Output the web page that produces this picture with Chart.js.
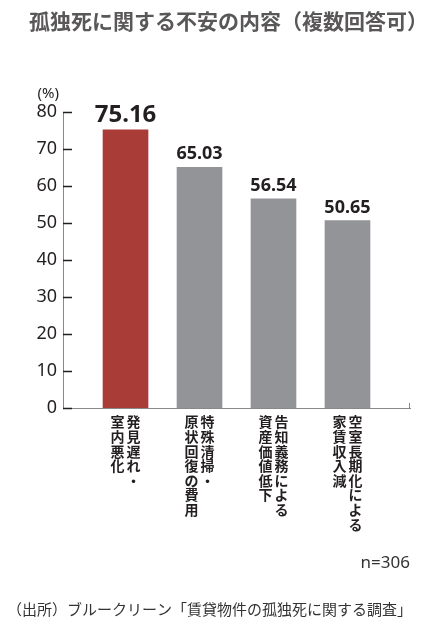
<!DOCTYPE html>
<html>
<head>
<meta charset="utf-8">
<script src="https://cdn.jsdelivr.net/npm/chart.js@4"></script>
<style>
  html, body { margin: 0; padding: 0; background: #fff; }
  #wrap { position: relative; width: 444px; height: 633px; }
</style>
</head>
<body>
<div id="wrap"><canvas id="chart"></canvas></div>
<script>
// データ
const categories = [
  ["発見遅れ・", "室内悪化"],
  ["特殊清掃・", "原状回復の費用"],
  ["告知義務による", "資産価値低下"],
  ["空室長期化による", "家賃収入減"]
];
const values = [75.16, 65.03, 56.54, 50.65];
const barColors = ["#a93c37", "#939497", "#939497", "#939497"];
const yTicks = [0, 10, 20, 30, 40, 50, 60, 70, 80];

const titleText = "孤独死に関する不安の内容（複数回答可）";
const unitText = "(%)";
const nText = "n=306";
const sourceText = "（出所）ブルークリーン「賃貸物件の孤独死に関する調査」";

const jp = '"Noto Sans CJK JP", sans-serif';
const num = '"Noto Sans", sans-serif';

// 文字・目盛りを描くプラグイン
const decorPlugin = {
  id: 'decor',
  afterDraw(chart) {
    const ctx = chart.ctx;
    const area = chart.chartArea;
    const xs = chart.scales.x;
    const ys = chart.scales.y;
    ctx.save();

    // タイトル
    ctx.fillStyle = "#595757";
    ctx.font = "bold 21px " + jp;
    ctx.textAlign = "left";
    ctx.textBaseline = "middle";
    ctx.fillText(titleText, 29, 21);

    // (%)
    ctx.fillStyle = "#231f20";
    ctx.font = "15px " + num;
    ctx.textAlign = "right";
    ctx.fillText(unitText, 59, 94);

    // y 目盛り (内側)
    ctx.strokeStyle = "#231f20";
    ctx.lineWidth = 1.5;
    yTicks.forEach(t => {
      const y = Math.round(ys.getPixelForValue(t)) + 0.5;
      ctx.beginPath();
      ctx.moveTo(area.left, y);
      ctx.lineTo(area.left + 9, y);
      ctx.stroke();
    });

    // x 軸右端の小さな目盛り
    ctx.strokeStyle = "#888";
    ctx.lineWidth = 1;
    ctx.beginPath();
    ctx.moveTo(area.right - 0.5, area.bottom);
    ctx.lineTo(area.right - 0.5, area.bottom - 5);
    ctx.stroke();

    // 値ラベル
    ctx.fillStyle = "#231f20";
    ctx.textAlign = "center";
    ctx.textBaseline = "alphabetic";
    values.forEach((v, i) => {
      const x = xs.getPixelForValue(i + 1);
      const y = ys.getPixelForValue(v);
      ctx.font = (i === 0 ? "bold 24px " : "bold 18px ") + num;
      ctx.fillText(v.toFixed(2), x, y - 8);
    });

    // カテゴリ (縦書き、右の列から)
    ctx.font = "bold 14px " + jp;
    ctx.textBaseline = "top";
    categories.forEach((cols, i) => {
      const cx = xs.getPixelForValue(i + 1);
      cols.forEach((col, c) => {
        const x = cx + 8 - 16 * c;
        [...col].forEach((ch, k) => {
          ctx.fillText(ch, x, area.bottom + 7 + k * 14.6);
        });
      });
    });

    // n=306
    ctx.fillStyle = "#333";
    ctx.font = "17px " + num;
    ctx.textAlign = "right";
    ctx.textBaseline = "middle";
    ctx.fillText(nText, 410, 563);

    // 出所
    ctx.font = "15px " + jp;
    ctx.textAlign = "left";
    ctx.fillText(sourceText, 7, 609);

    ctx.restore();
  }
};

const ctx = document.getElementById('chart').getContext('2d');
new Chart(ctx, {
  type: 'bar',
  data: {
    datasets: [{
      data: values.map((v, i) => ({ x: i + 1, y: v })),
      backgroundColor: barColors,
      barThickness: 45,
      borderWidth: 0
    }]
  },
  options: {
    responsive: true,
    maintainAspectRatio: false,
    animation: false,
    devicePixelRatio: 1,
    layout: { padding: { left: 0, top: 112, right: 34, bottom: 225 } },
    plugins: {
      legend: { display: false },
      tooltip: { enabled: false }
    },
    scales: {
      x: {
        type: 'linear',
        offset: false,
        min: 0.155,
        max: 4.845,
        ticks: { display: false },
        grid: { display: false, drawTicks: false, offset: false },
        border: { display: true, color: "#888", width: 1 },
        afterFit: s => { s.height = 0; }
      },
      y: {
        min: 0,
        max: 80,
        ticks: {
          stepSize: 10,
          padding: 6,
          color: "#231f20",
          font: { size: 18, family: '"Noto Sans", sans-serif' }
        },
        grid: { display: false, drawTicks: false },
        border: { display: true, color: "#888", width: 1 },
        afterFit: s => { s.width = 63; }
      }
    }
  },
  plugins: [decorPlugin]
});
</script>
</body>
</html>
